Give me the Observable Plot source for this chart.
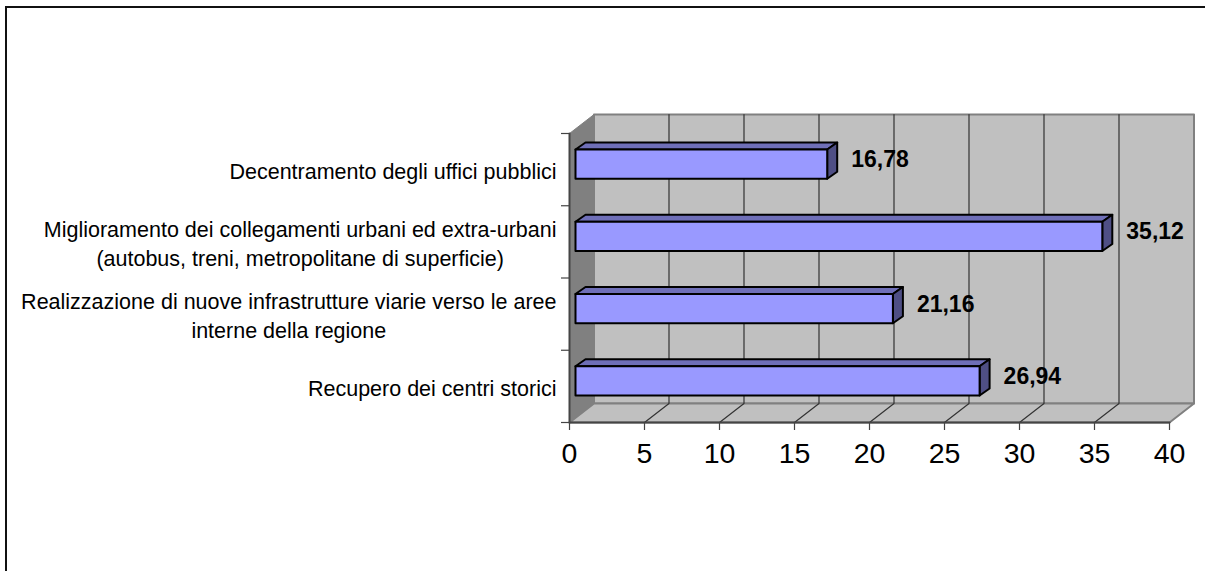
<!DOCTYPE html>
<html><head><meta charset="utf-8">
<script src="https://cdn.jsdelivr.net/npm/d3@7"></script>
<script src="https://cdn.jsdelivr.net/npm/@observablehq/plot@0.6"></script>
<style>
html,body{margin:0;padding:0;background:#fff;overflow:hidden}
#frame{position:absolute;left:5px;top:6px;width:1300px;height:600px;border-left:2px solid #111;border-top:2px solid #111}
#chart{position:absolute;left:0;top:0}
svg{display:block}
</style></head><body>
<div id="frame"></div><div id="chart"></div>
<script>
const categories = [
  "Decentramento degli uffici pubblici",
  "Miglioramento dei collegamenti urbani ed extra-urbani\n(autobus, treni, metropolitane di superficie)",
  "Realizzazione di nuove infrastrutture viarie verso le aree\ninterne della regione",
  "Recupero dei centri storici"
];
const values = [16.78, 35.12, 21.16, 26.94];
const valueLabels = ["16,78", "35,12", "21,16", "26,94"];
const xTicks = [0, 5, 10, 15, 20, 25, 30, 35, 40];
const yTicks = [0, 1, 2, 3, 4];

const font = "Liberation Sans, Arial, sans-serif";
const pxX = 15, pxY = 72.25;
const wallDX = 24.5 / pxX, wallDY = 19 / pxY;      // depth of the chart box
const barDX = 10 / pxX, barDY = 7 / pxY;           // depth of a bar
const barStart = 6 / pxX, barHalf = 14.6 / pxY, barShift = 5.5 / pxY;

const poly = (pts, o) => Plot.line(pts, {x: d => d[0], y: d => d[1], curve: "linear", ...o});
const rowY = i => categories.length - 1 - i + 0.5;

const marks = [];
// left wall, back wall, floor
marks.push(poly([[0,0],[wallDX,wallDY],[wallDX,4+wallDY],[0,4],[0,0]], {fill:"#808080", stroke:"#808080", strokeWidth:1}));
marks.push(poly([[wallDX,wallDY],[40+wallDX,wallDY],[40+wallDX,4+wallDY],[wallDX,4+wallDY],[wallDX,wallDY]], {fill:"#c0c0c0", stroke:"#808080", strokeWidth:2}));
marks.push(poly([[0,0],[40,0],[40+wallDX,wallDY],[wallDX,wallDY],[0,0]], {fill:"#c0c0c0", stroke:"#808080", strokeWidth:2}));
// grid on back wall and floor
const inner = xTicks.slice(1, -1);
for (const t of inner) {
  marks.push(poly([[t,0],[t+wallDX,wallDY],[t+wallDX,4+wallDY]], {stroke:"#333", strokeWidth:1.2}));
}
marks.push(poly([[0,0],[40,0]], {stroke:"#444", strokeWidth:2}));
marks.push(poly([[0,0],[0,4]], {stroke:"#444", strokeWidth:2}));
// bars
values.forEach((v, i) => {
  const c = rowY(i) + barShift;
  const x0 = barStart, x1 = barStart + v, y0 = c - barHalf, y1 = c + barHalf;
  marks.push(poly([[x0,y1],[x1,y1],[x1+barDX,y1+barDY],[x0+barDX,y1+barDY],[x0,y1]], {fill:"#6f6fb8", stroke:"#000", strokeWidth:2, strokeLinejoin:"round"}));
  marks.push(poly([[x1,y0],[x1+barDX,y0+barDY],[x1+barDX,y1+barDY],[x1,y1],[x1,y0]], {fill:"#4f4f85", stroke:"#000", strokeWidth:2, strokeLinejoin:"round"}));
  marks.push(poly([[x0,y0],[x1,y0],[x1,y1],[x0,y1],[x0,y0]], {fill:"#9999ff", stroke:"#000", strokeWidth:2, strokeLinejoin:"round"}));
});
// value labels
marks.push(Plot.text(values.map((v,i)=>({v,i})), {
  x: d => d.v + barStart + barDX, y: d => rowY(d.i),
  text: d => valueLabels[d.i], textAnchor:"start", dx:14, dy:-10,
  fontSize:23, fontWeight:"bold", fill:"#000", fontFamily:font
}));
// category labels: multi-line blocks, centred on their own widest line, right edge fixed
const ctx = document.createElement("canvas").getContext("2d");
const catFont = 21.5;
ctx.font = catFont + "px 'Liberation Sans'";
categories.forEach((c, i) => {
  const w = Math.max(...c.split("\n").map(s => ctx.measureText(s).width));
  marks.push(Plot.text([c], {
    x: () => 0, y: () => rowY(i), text: d => d, textAnchor:"middle", lineAnchor:"middle",
    dx: -13 - w / 2, lineHeight:1.37, fontSize:catFont, fill:"#000", fontFamily:font
  }));
});
// axes, anchored on the front edge of the floor and the left wall
marks.push(Plot.ruleX(xTicks, {x: d => d, y1: () => 0, y2: () => -8 / pxY, stroke:"#444", strokeWidth:1.2}));
marks.push(Plot.ruleY(yTicks, {y: d => d, x1: () => -8 / pxX, x2: () => 0, stroke:"#444", strokeWidth:1.2}));
marks.push(Plot.text(xTicks, {x: d => d, y: () => 0, dy:31, text: d => String(d), fontSize:28.5, fill:"#000", fontFamily:font}));

const chart = Plot.plot({
  width:1205, height:571,
  marginLeft:0, marginRight:0, marginTop:0, marginBottom:0,
  style:{background:"transparent", fontFamily:font},
  x:{type:"linear", domain:[0,40], range:[569,1169], axis:null},
  y:{type:"linear", domain:[0,4], range:[422,133], axis:null},
  marks
});
document.getElementById("chart").append(chart);
</script>
</body></html>
